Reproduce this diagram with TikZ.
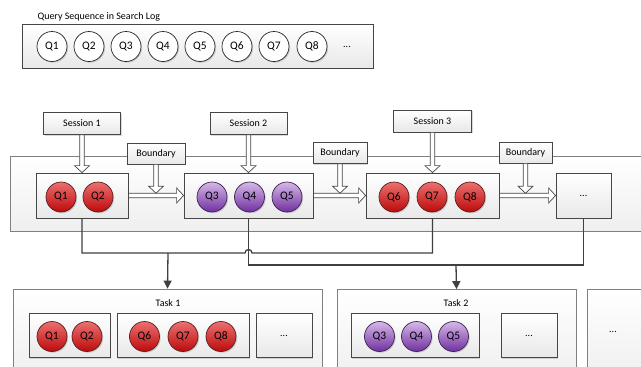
\documentclass[tikz,border=0pt]{standalone}
\usepackage{fontspec}
\setmainfont{Carlito}
\usetikzlibrary{arrows.meta,calc,shadows}

\definecolor{boxline}{RGB}{70,70,70}
\definecolor{panelline}{RGB}{128,128,128}
\definecolor{boxbot}{RGB}{232,232,232}
\definecolor{redtop}{RGB}{236,112,112}
\definecolor{redbot}{RGB}{188,10,10}
\definecolor{redline}{RGB}{90,30,30}
\definecolor{purtop}{RGB}{214,184,232}
\definecolor{purbot}{RGB}{112,48,160}
\definecolor{purline}{RGB}{60,35,80}
\definecolor{wire}{RGB}{64,64,64}

\tikzset{
  softshadow/.style={drop shadow={shadow xshift=1.2pt,shadow yshift=-1.2pt,fill=black,opacity=0.15}},
  panel/.style={draw=panelline,line width=0.8pt,top color=white,bottom color=boxbot!70,inner sep=0pt,softshadow},
  group/.style={draw=boxline,line width=0.8pt,top color=white,bottom color=boxbot,
    minimum height=45pt,inner sep=0pt,softshadow},
  label box/.style={draw=boxline,line width=0.7pt,top color=white,bottom color=boxbot,
    minimum height=22pt,inner sep=0pt,softshadow},
  qbase/.style={circle,line width=0.7pt,minimum size=30pt,inner sep=0pt,softshadow,
    font=\fontsize{11.5}{13}\selectfont},
  qplain/.style={qbase,draw=black!85,fill=white},
  qred/.style={qbase,draw=redline,top color=redtop,bottom color=redbot},
  qpur/.style={qbase,draw=purline,top color=purtop,bottom color=purbot},
  hollow/.style={draw=boxline,line width=0.7pt,fill=white},
  % hollow block arrow pointing down, shaft taken at the x of its start
  vhollow/.style={to path={let \p1=(\tikztostart),\p2=(\tikztotarget) in
    (\x1-2.3pt,\y1) -- (\x1-2.3pt,\y2+7pt) -- (\x1-7.5pt,\y2+7pt) -- (\x1,\y2)
    -- (\x1+7.5pt,\y2+7pt) -- (\x1+2.3pt,\y2+7pt) -- (\x1+2.3pt,\y1) -- cycle}},
  % hollow block arrow pointing right, shaft taken at the y of its start
  hhollow/.style={to path={let \p1=(\tikztostart),\p2=(\tikztotarget) in
    (\x1,\y1+2.3pt) -- (\x2-7pt,\y1+2.3pt) -- (\x2-7pt,\y1+7.5pt) -- (\x2,\y1)
    -- (\x2-7pt,\y1-7.5pt) -- (\x2-7pt,\y1-2.3pt) -- (\x1,\y1-2.3pt) -- cycle}},
  wire/.style={draw=wire,line width=1.3pt},
  tip/.style={-{Triangle[length=8pt,width=8pt]}}
}

\begin{document}
\begin{tikzpicture}[x=1pt,y=-1pt,font=\fontsize{10}{12}\selectfont]
\useasboundingbox (0,0) rectangle (641,367);
\fill[white] (0,0) rectangle (641,367);
\clip (0,0) rectangle (641,367);

% ---- query sequence ----
\node[anchor=west] (qtitle) at (34,17) {Query Sequence in Search Log};
\node[group,minimum width=351pt,minimum height=44pt] (qseq) at (197.5,46) {};
\foreach \i/\x in {1/52,2/89,3/126,4/163,5/200,6/237,7/274,8/312}
  \node[qplain] (q\i) at (\x,46.5) {Q\i};
\node (qmore) at (347,46.5) {...};

% ---- session panel ----
\node[panel,minimum width=640pt,minimum height=75pt] (panel) at (330,193.5) {};

\node[group,minimum width=92pt] (g1) at (82,195.5) {};
\node[group,minimum width=129pt] (g2) at (248.5,195.5) {};
\node[group,minimum width=133pt] (g3) at (432.5,195.5) {};
\node[group,minimum width=55pt] (g4) at (583.5,195.5) {...};

\node[qred] (sq1) at (61,197) {Q1};
\node[qred] (sq2) at (98,197) {Q2};
\node[qpur] (sq3) at (212,197) {Q3};
\node[qpur] (sq4) at (249.5,197) {Q4};
\node[qpur] (sq5) at (287,197) {Q5};
\node[qred] (sq6) at (394,197) {Q6};
\node[qred] (sq7) at (432,197) {Q7};
\node[qred] (sq8) at (470,197) {Q8};

% sessions
\node[label box,minimum width=77pt] (s1) at (82,123.5) {Session 1};
\node[label box,minimum width=77pt] (s2) at (248.5,123.5) {Session 2};
\node[label box,minimum width=78pt] (s3) at (432.5,121) {Session 3};
\draw[hollow] (s1.south) to[vhollow] (g1.north);
\draw[hollow] (s2.south) to[vhollow] (g2.north);
\draw[hollow] (s3.south) to[vhollow] (g3.north);

% links between sessions
\draw[hollow] (g1.east) to[hhollow] (g2.west);
\draw[hollow] (g2.east) to[hhollow] (g3.west);
\draw[hollow] (g3.east) to[hhollow] (g4.west);

% boundaries
\node[label box,minimum width=58pt,minimum height=21pt] (b1) at (156,153.5) {Boundary};
\node[label box,minimum width=54pt,minimum height=21pt] (b2) at (340,153) {Boundary};
\node[label box,minimum width=53pt,minimum height=21pt] (b3) at (525.5,152.5) {Boundary};
\coordinate (c1) at ($(g1.east)!0.5!(g2.west)+(0,-2.3)$);
\coordinate (c2) at ($(g2.east)!0.5!(g3.west)+(0,-2.3)$);
\coordinate (c3) at ($(g3.east)!0.5!(g4.west)+(0,-2.3)$);
\draw[hollow] (b1.south) to[vhollow] (c1);
\draw[hollow] (b2.south) to[vhollow] (c2);
\draw[hollow] (b3.south) to[vhollow] (c3);

% ---- tasks ----
\node[panel,minimum width=309pt,minimum height=91pt] (t1) at (167.5,334.5) {};
\node[panel,minimum width=239pt,minimum height=91pt] (t2) at (456.5,335) {};
\node[panel,minimum width=63pt,minimum height=91pt] (t3) at (618.5,334.5) {};
\node (t1name) at (168,303) {Task 1};
\node (t2name) at (456,303) {Task 2};
\node (t3more) at (613,332) {...};

\node[group,minimum width=81pt,minimum height=44pt] (t1a) at (69.5,335.5) {};
\node[group,minimum width=132pt,minimum height=44pt] (t1b) at (183,335.5) {};
\node[group,minimum width=56pt,minimum height=44pt] (t1c) at (284,335.5) {...};
\node[group,minimum width=128pt,minimum height=44pt] (t2a) at (415,335.5) {};
\node[group,minimum width=56pt,minimum height=44pt] (t2b) at (529,335.5) {...};

\node[qred] (tq1) at (52,336.5) {Q1};
\node[qred] (tq2) at (87,336.5) {Q2};
\node[qred] (tq6) at (144.5,336.5) {Q6};
\node[qred] (tq7) at (183,336.5) {Q7};
\node[qred] (tq8) at (221,336.5) {Q8};
\node[qpur] (tq3) at (379.5,336.5) {Q3};
\node[qpur] (tq4) at (416.5,336.5) {Q4};
\node[qpur] (tq5) at (453.5,336.5) {Q5};

% ---- grouping wires ----
\coordinate (j1) at (168,253);
\coordinate (j2) at (456,265);
\draw[wire] (g1.south) -- (g1.south |- j1) -- ($(g2.south |- j1)+(-3.5,0)$)
  arc[start angle=180,end angle=360,radius=3.5] -- (g3.south |- j1) -- (g3.south);
\draw[wire] (g2.south) -- (g2.south |- j2) -- (g4.south |- j2) -- (g4.south);
\draw[wire,tip] (j1) -- (t1.north);
\draw[wire,tip] (j2) -- (t2.north);
\end{tikzpicture}
\end{document}
